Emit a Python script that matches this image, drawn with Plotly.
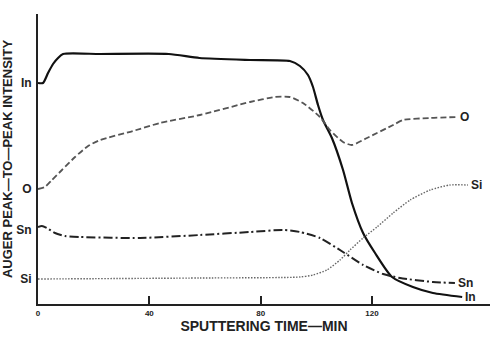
import plotly.graph_objects as go

# time in minutes, intensity in arbitrary units
in_t = [0, 1.8, 3.6, 5.4, 7.2, 9.0, 22.3, 47.0, 58.0, 76.2, 90.5, 94.1, 97.0, 98.8, 100.6, 102.4, 105.6, 109.6, 112.8, 116.8, 121.1, 127.2, 134.7, 141.9, 152.4]
in_v = [221, 221, 231, 240, 246, 250, 250, 250, 246, 244, 243, 238, 229, 217, 199, 184, 166, 134, 101, 71, 51, 27, 17, 11, 7]

o_t = [0, 2.5, 5.0, 8.6, 13.3, 18.0, 22.3, 34.1, 43.8, 58.2, 76.2, 85.2, 90.5, 95.2, 101.3, 104.9, 109.6, 112.8, 118.2, 127.6, 131.2, 140.9, 150.6]
o_v = [115, 117, 124, 134, 147, 158, 164, 173, 181, 189, 202, 207, 207, 201, 187, 174, 162, 159, 166, 179, 184, 186, 187]

sn_t = [0, 1.4, 3.2, 6.1, 9.7, 15.1, 36.7, 58.2, 76.2, 88.0, 94.1, 101.3, 109.6, 116.8, 124.0, 130.1, 141.9, 149.8]
sn_v = [77, 78, 76, 71, 68, 67, 66, 69, 72, 74, 72, 66, 52, 39, 30, 26, 22, 21]

si_t = [0, 58.2, 94.1, 98.8, 103.8, 108.5, 112.1, 116.8, 121.8, 127.6, 133.7, 140.9, 148.0, 154.5]
si_v = [25, 26, 27, 29, 34, 44, 54, 66, 77, 91, 104, 114, 119, 119]

x_ticks = [0, 40, 80, 120]
y_tick_vals = [221, 115, 74, 25]
y_tick_text = ["In", "O", "Sn", "Si"]

FONT = "Liberation Sans, Arial, sans-serif"

fig = go.Figure()
series = [
    ("In", in_t, in_v, dict(color="#111111", width=2.2, dash="solid")),
    ("O", o_t, o_v, dict(color="#555555", width=1.8, dash="6px,3px")),
    ("Sn", sn_t, sn_v, dict(color="#222222", width=2.0, dash="9px,3px,2px,3px")),
    ("Si", si_t, si_v, dict(color="#666666", width=1.4, dash="1.5px,1.5px")),
]
for name, t, v, ln in series:
    fig.add_trace(go.Scatter(x=t, y=v, mode="lines", name=name,
                             line=dict(shape="spline", smoothing=0.6, **ln),
                             showlegend=False, hoverinfo="skip"))
    fig.add_annotation(x=t[-1], y=v[-1], text=name, showarrow=False,
                       xanchor="left", yanchor="middle", xshift=1,
                       font=dict(family=FONT, size=12, color="#222222", weight="bold"))

fig.update_layout(
    width=495, height=339,
    margin=dict(l=38, r=5, t=14, b=35),
    paper_bgcolor="white", plot_bgcolor="white",
    font=dict(family=FONT, color="#222222", weight="bold"),
    xaxis=dict(range=[0, 162.4], tickvals=x_ticks, ticks="inside", ticklen=8,
               tickwidth=1.5, tickcolor="#222222", showline=True, linewidth=2,
               linecolor="#222222", showgrid=False, zeroline=False,
               tickfont=dict(size=8, family=FONT, weight="bold"),
               title=dict(text="SPUTTERING TIME—MIN", standoff=4,
                          font=dict(size=14, family=FONT, weight="bold")),
               automargin=False),
    yaxis=dict(range=[0, 290], tickvals=y_tick_vals, ticktext=y_tick_text,
               ticks="", showline=True, linewidth=2, linecolor="#222222",
               showgrid=False, zeroline=False, ticklabelstandoff=2,
               tickfont=dict(size=12, family=FONT, weight="bold"),
               title=dict(text="AUGER PEAK—TO—PEAK INTENSITY", standoff=2,
                          font=dict(size=13, family=FONT, weight="bold")),
               automargin=False),
)

fig.write_html("out.html")
